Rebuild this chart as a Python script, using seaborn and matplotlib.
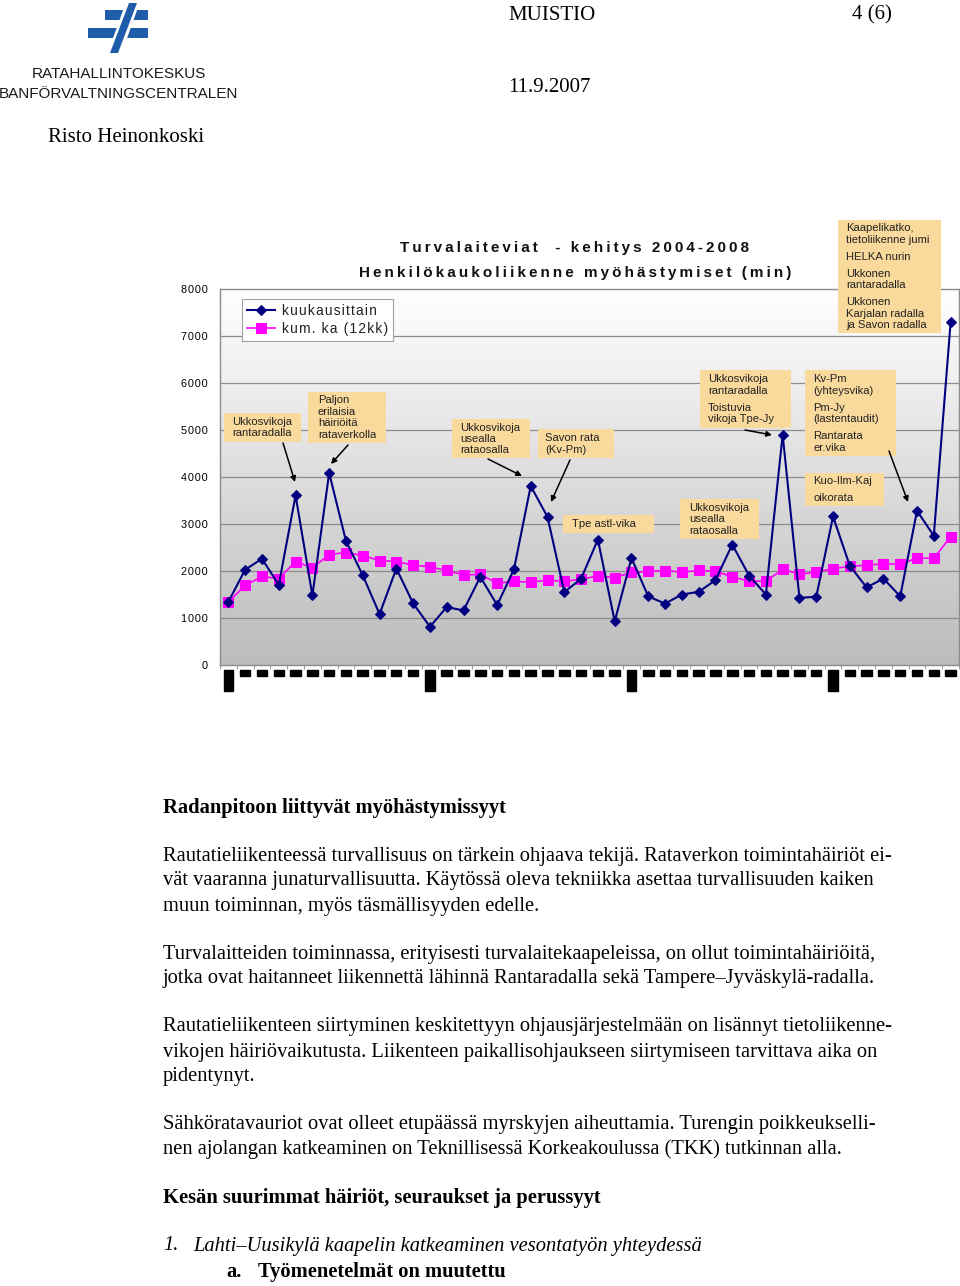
import matplotlib
matplotlib.use("Agg")
import matplotlib.pyplot as plt
import numpy as np
import seaborn as sns
from matplotlib.colors import LinearSegmentedColormap
from matplotlib.patches import Polygon, Rectangle

# ── Data ────────────────────────────────────────────────────────────────
MONTHS = list(range(44))  # tammikuu 2004 ... elokuu 2007
MONTHLY = [1345, 2030, 2260, 1705, 3610, 1480, 4085, 2640, 1910, 1083, 2053, 1310,
           814, 1232, 1160, 1876, 1274, 2032, 3809, 3150, 1550, 1835, 2670, 930,
           2275, 1460, 1305, 1500, 1557, 1805, 2563, 1904, 1500, 4900, 1430, 1450,
           3160, 2110, 1650, 1840, 1460, 3280, 2750, 7290]
ROLLING = [1345, 1692, 1883, 1840, 2202, 2067, 2350, 2393, 2329, 2223, 2202, 2124,
           2088, 2011, 1918, 1926, 1742, 1777, 1763, 1805, 1780, 1825, 1894, 1860,
           1970, 1990, 2010, 1975, 2011, 1996, 1876, 1784, 1784, 2032, 1933, 1975,
           2050, 2100, 2124, 2152, 2145, 2273, 2273, 2726]
YEARS = ["2004", "2005", "2006", "2007"]
Y_TICKS = [0, 1000, 2000, 3000, 4000, 5000, 6000, 7000, 8000]
SERIES_LABELS = ["kuukausittain", "kum. ka (12kk)"]

BOX_COLOR = "#F9D99C"
SANS = ["Liberation Sans", "DejaVu Sans"]
SERIF = ["Liberation Serif", "DejaVu Serif"]

W, H = 960, 1286


def spaced(text, sep="\u2009"):
    """Harva kirjainväli kuten alkuperäisessä Excel-kaaviossa."""
    return sep.join(text)


fig = plt.figure(figsize=(W / 100, H / 100), dpi=100)
fig.patch.set_facecolor("white")

# ── Chart ───────────────────────────────────────────────────────────────
ax = fig.add_axes([220 / W, 1 - 665 / H, 739 / W, 376 / H])
grad = np.linspace(0, 1, 256).reshape(-1, 1)
cmap = LinearSegmentedColormap.from_list("bg", ["#ffffff", "#bcbcbc"])
ax.imshow(grad, cmap=cmap, extent=[-0.5, 43.5, 0, 8000], aspect="auto", zorder=0)
for yv in Y_TICKS[1:-1]:
    ax.axhline(yv, color="#8c8c8c", lw=0.9, zorder=1)

sns.lineplot(x=MONTHS, y=MONTHLY, ax=ax, color="#000080", lw=1.5, marker="D",
             markersize=5, markeredgecolor="#000080", label=SERIES_LABELS[0], zorder=3)
sns.lineplot(x=MONTHS, y=ROLLING, ax=ax, color="#FF00FF", lw=1.2, marker="s",
             markersize=7, markeredgecolor="#FF00FF", label=SERIES_LABELS[1], zorder=2)

ax.set_xlim(-0.5, 43.5)
ax.set_ylim(0, 8000)
ax.set_yticks(Y_TICKS)
ax.set_yticklabels([spaced(str(v), "\u200a") for v in Y_TICKS], family=SANS, fontsize=7.8)
ax.tick_params(axis="y", length=0, pad=9)
for s in ax.spines.values():
    s.set_color("#8c8c8c")
    s.set_linewidth(1.0)

# kuukausien tunnisteet (alkuperäisessä mustiksi palkeiksi tulostuneet)
x_labels = []
for i in MONTHS:
    m = i % 12 + 1
    x_labels.append(YEARS[i // 12] if m == 1 else f"{m:02d}/{YEARS[i // 12][2:]}")
ax.set_xticks(MONTHS)
ax.set_xticklabels(x_labels)
for i, t in enumerate(ax.get_xticklabels()):
    if i % 12 == 0:
        t.set_rotation(90)
        t.set_fontsize(5)
        t.set_bbox(dict(fc="black", ec="black", pad=1.2))
    else:
        t.set_fontsize(2.2)
        t.set_bbox(dict(fc="black", ec="black", pad=0.6))
    t.set_color("black")
ax.tick_params(axis="x", which="major", length=0, pad=4.5)
ax.set_xticks(np.arange(-0.5, 44, 1), minor=True)
ax.tick_params(axis="x", which="minor", length=3, color="#8c8c8c")
ax.set_xlabel("")
ax.set_ylabel("")

leg = ax.legend(loc="upper left", bbox_to_anchor=(242 / W, 1 - 299 / H),
                bbox_transform=fig.transFigure, fancybox=False, framealpha=1,
                edgecolor="#a0a0a0", borderpad=0.35, handlelength=2.0,
                handletextpad=0.5, labelspacing=0.3, borderaxespad=0)
for t, lab in zip(leg.get_texts(), SERIES_LABELS):
    t.set_text(spaced(lab, "\u200a"))
    t.set_family(SANS)
    t.set_fontsize(10)
    t.set_color("#222222")
leg.get_frame().set_linewidth(0.8)

# ── Overlay in page pixels ──────────────────────────────────────────────
ov = fig.add_axes([0, 0, 1, 1], facecolor="none")
ov.set_xlim(0, W)
ov.set_ylim(H, 0)
ov.axis("off")

ov.text(575, 248, spaced("Turvalaiteviat  - kehitys 2004-2008"), family=SANS,
        weight="bold", fontsize=11, ha="center", va="center", color="#111111")
ov.text(575, 273, spaced("Henkilökaukoliikenne myöhästymiset (min)"), family=SANS,
        weight="bold", fontsize=11, ha="center", va="center", color="#111111")


def note(x0, y0, x1, y1, lines, tx):
    ov.add_patch(Rectangle((x0, y0), x1 - x0, y1 - y0, fc=BOX_COLOR, ec="none", zorder=5))
    for text, yy in lines:
        ov.text(tx, yy, text, family=SANS, fontsize=8.1, ha="left", va="center",
                color="#222222", zorder=6)


def arrow(x0, y0, x1, y1):
    ov.annotate("", xy=(x1, y1), xytext=(x0, y0), zorder=6,
                arrowprops=dict(arrowstyle="-|>", color="black", lw=1.1,
                                mutation_scale=8, shrinkA=0, shrinkB=0))


note(224, 413, 301, 442, [("Ukkosvikoja", 422), ("rantaradalla", 433)], 232)
arrow(283, 443, 295, 482)
note(308, 392, 386, 443, [("Paljon", 400), ("erilaisia", 412), ("häiriöitä", 423),
                          ("rataverkolla", 435)], 318)
arrow(348, 445, 331, 464)
note(452, 419, 530, 458, [("Ukkosvikoja", 428), ("usealla", 439), ("rataosalla", 450)], 460)
arrow(488, 459, 522, 476)
note(538, 429, 614, 458, [("Savon rata", 438), ("(Kv-Pm)", 450)], 545)
arrow(570, 460, 551, 502)
note(563, 515, 654, 533, [("Tpe astl-vika", 524)], 572)
note(680, 499, 759, 539, [("Ukkosvikoja", 508), ("usealla", 519), ("rataosalla", 531)], 689)
note(700, 370, 791, 428, [("Ukkosvikoja", 379), ("rantaradalla", 391),
                          ("Toistuvia", 408), ("vikoja Tpe-Jy", 419)], 708)
arrow(745, 430, 772, 435)
note(805, 370, 896, 456, [("Kv-Pm", 379), ("(yhteysvika)", 391), ("Pm-Jy", 408),
                          ("(lastentaudit)", 419), ("Rantarata", 436), ("er.vika", 448)], 813)
arrow(889, 451, 908, 502)
note(805, 473, 884, 506, [("Kuo-Ilm-Kaj", 481), ("oikorata", 498)], 813)
note(838, 220, 941, 333, [("Kaapelikatko,", 228), ("tietoliikenne jumi", 240),
                          ("HELKA nurin", 257), ("Ukkonen", 274), ("rantaradalla", 285),
                          ("Ukkonen", 302), ("Karjalan radalla", 314),
                          ("ja Savon radalla", 325)], 846)

# ── Header ──────────────────────────────────────────────────────────────
LOGO = "#1f5ca9"
ov.add_patch(Rectangle((105, 10), 43, 9.5, fc=LOGO, ec="none"))
ov.add_patch(Rectangle((88, 28), 60, 10, fc=LOGO, ec="none"))
ov.add_patch(Polygon([(126, 2), (140, 2), (121, 55), (107, 55)], fc="white", ec="none"))
ov.add_patch(Polygon([(129, 3), (137, 3), (118, 53), (110, 53)], fc=LOGO, ec="none"))
ov.text(118.5, 74, "RATAHALLINTOKESKUS", family=SANS,
        fontsize=11, ha="center", va="center", color="#1a1a1a")
ov.text(118.5, 94, "BANFÖRVALTNINGSCENTRALEN", family=SANS,
        fontsize=11, ha="center", va="center", color="#1a1a1a")

HEAD = 15
ov.text(508, 15, "MUISTIO", family=SERIF, fontsize=HEAD, va="center")
ov.text(852, 15, "4 (6)", family=SERIF, fontsize=HEAD, va="center")
ov.text(508, 88, "11.9.2007", family=SERIF, fontsize=HEAD, va="center")
ov.text(48, 137, "Risto Heinonkoski", family=SERIF, fontsize=HEAD, va="center")

# ── Body text ───────────────────────────────────────────────────────────
BODY = 14.8
ov.text(163, 808, "Radanpitoon liittyvät myöhästymissyyt", family=SERIF, weight="bold",
        fontsize=BODY, va="center")
body_lines = [
    ("Rautatieliikenteessä turvallisuus on tärkein ohjaava tekijä. Rataverkon toimintahäiriöt ei-", 857),
    ("vät vaaranna junaturvallisuutta. Käytössä oleva tekniikka asettaa turvallisuuden kaiken", 881),
    ("muun toiminnan, myös täsmällisyyden edelle.", 906),
    ("Turvalaitteiden toiminnassa, erityisesti turvalaitekaapeleissa, on ollut toimintahäiriöitä,", 955),
    ("jotka ovat haitanneet liikennettä lähinnä Rantaradalla sekä Tampere–Jyväskylä-radalla.", 979),
    ("Rautatieliikenteen siirtyminen keskitettyyn ohjausjärjestelmään on lisännyt tietoliikenne-", 1027),
    ("vikojen häiriövaikutusta. Liikenteen paikallisohjaukseen siirtymiseen tarvittava aika on", 1052),
    ("pidentynyt.", 1076),
    ("Sähköratavauriot ovat olleet etupäässä myrskyjen aiheuttamia. Turengin poikkeukselli-", 1125),
    ("nen ajolangan katkeaminen on Teknillisessä Korkeakoulussa (TKK) tutkinnan alla.", 1149),
]
for text, yy in body_lines:
    ov.text(163, yy, text, family=SERIF, fontsize=BODY, va="center")
ov.text(163, 1198, "Kesän suurimmat häiriöt, seuraukset ja perussyyt", family=SERIF,
        weight="bold", fontsize=BODY, va="center")
ov.text(163, 1246, "1.", family=SERIF, style="italic", fontsize=BODY, va="center")
ov.text(193, 1246, "Lahti–Uusikylä kaapelin katkeaminen vesontatyön yhteydessä", family=SERIF,
        style="italic", fontsize=BODY, va="center")
ov.text(226, 1272, "a.", family=SERIF, weight="bold", fontsize=BODY, va="center")
ov.text(258, 1272, "Työmenetelmät on muutettu", family=SERIF, weight="bold", fontsize=BODY,
        va="center")

fig.savefig("out.png", dpi=100)
